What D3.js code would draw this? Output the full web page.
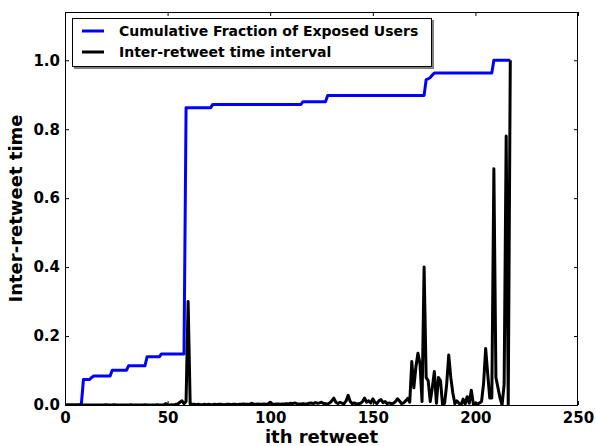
<!DOCTYPE html>
<html>
<head>
<meta charset="utf-8">
<script src="https://cdn.jsdelivr.net/npm/d3@7"></script>
<style>
  html, body { margin: 0; padding: 0; background: #fff; }
  svg { display: block; }
  text { font-family: "DejaVu Sans", sans-serif; font-weight: bold; fill: #000; }
</style>
</head>
<body>
<svg id="chart" width="596" height="446"></svg>
<script>
// ---- data ----
const seriesNames = ["Cumulative Fraction of Exposed Users", "Inter-retweet time interval"];
const xTicks = [0, 50, 100, 150, 200, 250];
const yTicks = [0.0, 0.2, 0.4, 0.6, 0.8, 1.0];
const xLabel = "ith retweet";
const yLabel = "Inter-retweet time";

// cumulative fraction of exposed users, one value per retweet index 0..217
const cumulative = [
  0,0,0,0,0,0,0,0,0.005,0.074,
  0.074,0.074,0.074,0.08,0.084,0.084,0.084,0.084,0.084,0.084,
  0.084,0.084,0.084,0.101,0.101,0.101,0.101,0.101,0.101,0.101,
  0.101,0.114,0.114,0.114,0.114,0.114,0.114,0.114,0.114,0.114,
  0.14,0.14,0.14,0.14,0.14,0.14,0.14,0.148,0.148,0.148,
  0.148,0.148,0.148,0.148,0.148,0.148,0.148,0.148,0.148,0.862,
  0.862,0.862,0.862,0.862,0.862,0.862,0.862,0.862,0.862,0.862,
  0.862,0.862,0.872,0.872,0.872,0.872,0.872,0.872,0.872,0.872,
  0.872,0.872,0.872,0.872,0.872,0.872,0.872,0.872,0.872,0.872,
  0.872,0.872,0.872,0.872,0.872,0.872,0.872,0.872,0.872,0.872,
  0.872,0.872,0.872,0.872,0.872,0.872,0.872,0.872,0.872,0.872,
  0.872,0.872,0.872,0.872,0.872,0.872,0.88,0.88,0.88,0.88,
  0.88,0.88,0.88,0.88,0.88,0.88,0.88,0.88,0.898,0.898,
  0.898,0.898,0.898,0.898,0.898,0.898,0.898,0.898,0.898,0.898,
  0.898,0.898,0.898,0.898,0.898,0.898,0.898,0.898,0.898,0.898,
  0.898,0.898,0.898,0.898,0.898,0.898,0.898,0.898,0.898,0.898,
  0.898,0.898,0.898,0.898,0.898,0.898,0.898,0.898,0.898,0.898,
  0.898,0.898,0.898,0.898,0.898,0.898,0.944,0.946,0.95,0.957,
  0.963,0.963,0.963,0.963,0.963,0.963,0.963,0.963,0.963,0.963,
  0.963,0.963,0.963,0.963,0.963,0.963,0.963,0.963,0.963,0.963,
  0.963,0.963,0.963,0.963,0.963,0.963,0.963,0.963,0.963,1.0,
  1.0,1.0,1.0,1.0,1.0,1.0,1.0,1.0
];

// inter-retweet time interval, one value per retweet index 0..217
const interval = [
  0,0,0,0,0,0,0,0,0,0,
  0,0,0,0,0,0,0,0,0,0,
  0.001,0,0,0,0.001,0,0,0,0,0,
  0,0,0.001,0,0,0,0,0,0,0.001,
  0,0,0,0,0,0.001,0,0,0,0.004,
  0.001,0,0.001,0,0.002,0.003,0.008,0.012,0.004,0.01,
  0.30,0.003,0.002,0.002,0.001,0.002,0.001,0.001,0.002,0.001,
  0.002,0.001,0.001,0.002,0.001,0.002,0.002,0.001,0.001,0.002,
  0.002,0.001,0.002,0.002,0.001,0.002,0.002,0.003,0.002,0.002,
  0.002,0.005,0.002,0.002,0.003,0.002,0.002,0.003,0.002,0.003,
  0.008,0.003,0.002,0.003,0.003,0.002,0.003,0.003,0.004,0.003,
  0.005,0.004,0.006,0.004,0.003,0.003,0.004,0.003,0.003,0.005,
  0.006,0.004,0.007,0.005,0.006,0.008,0.004,0.004,0.003,0.006,
  0.012,0.02,0.008,0.004,0.008,0.005,0.004,0.012,0.028,0.01,
  0.004,0.006,0.003,0.004,0.005,0.01,0.02,0.008,0.012,0.006,
  0.018,0.008,0.004,0.012,0.016,0.007,0.01,0.004,0.006,0.004,
  0.005,0.01,0.018,0.012,0.004,0.006,0.012,0.019,0.008,0.126,
  0.05,0.11,0.15,0.12,0.01,0.40,0.08,0.07,0.01,0.05,
  0.097,0.005,0.08,0.07,0.0,0.005,0.06,0.145,0.08,0.035,
  0.004,0.012,0.005,0.0,0.017,0.003,0.024,0.005,0.043,0.003,
  0.005,0.003,0.006,0.01,0.063,0.164,0.09,0.02,0.02,0.685,
  0.08,0.05,0.02,0.0,0.06,0.78,0.0,1.0
];

const colors = ["#0000ff", "#000000"];

// ---- layout ----
const svg = d3.select("#chart");
const L = 65, T = 12, R = 578, B = 405;
const x = d3.scaleLinear().domain([0, 250]).range([L, R]);
const y = d3.scaleLinear().domain([0, 1.14]).range([B, T]);

svg.append("defs").append("clipPath").attr("id", "clip")
  .append("rect").attr("x", L).attr("y", T).attr("width", R - L).attr("height", B - T);

const line = d3.line().x((d, i) => x(i)).y(d => y(d));

const plot = svg.append("g").attr("clip-path", "url(#clip)");
[cumulative, interval].forEach((s, k) => {
  plot.append("path").datum(s)
    .attr("d", line)
    .attr("fill", "none")
    .attr("stroke", colors[k])
    .attr("stroke-width", 3)
    .attr("stroke-linejoin", "round");
});

// axes (inward ticks on all four sides)
const tickLen = 4;
const axBottom = d3.axisBottom(x).tickValues(xTicks).tickSize(-tickLen).tickPadding(7).tickFormat(d3.format("d"));
const axTop = d3.axisTop(x).tickValues(xTicks).tickSize(-tickLen).tickFormat("");
const axLeft = d3.axisLeft(y).tickValues(yTicks).tickSize(-tickLen).tickPadding(5).tickFormat(d3.format(".1f"));
const axRight = d3.axisRight(y).tickValues(yTicks).tickSize(-tickLen).tickFormat("");

function styleAxis(g) {
  g.select(".domain").remove();
  g.selectAll(".tick line").attr("stroke", "#000").attr("stroke-width", 1);
  g.selectAll(".tick text").style("font-size", "15px").style("font-weight", "bold")
    .style("font-family", "DejaVu Sans").attr("fill", "#000");
}
svg.append("g").attr("transform", `translate(0,${B})`).call(axBottom).call(styleAxis);
svg.append("g").attr("transform", `translate(0,${T})`).call(axTop).call(styleAxis);
svg.append("g").attr("transform", `translate(${L},0)`).call(axLeft).call(styleAxis);
svg.append("g").attr("transform", `translate(${R},0)`).call(axRight).call(styleAxis);

// frame
svg.append("rect").attr("x", L + 0.5).attr("y", T + 0.5)
  .attr("width", R - L - 1).attr("height", B - T)
  .attr("fill", "none").attr("stroke", "#000").attr("stroke-width", 1);

// axis labels
svg.append("text").attr("x", (L + R) / 2).attr("y", 443)
  .attr("text-anchor", "middle").style("font-size", "18px").text(xLabel);
svg.append("text").attr("transform", `translate(22,${(T + B) / 2}) rotate(-90)`)
  .attr("text-anchor", "middle").style("font-size", "18px").text(yLabel);

// legend
const lg = svg.append("g");
lg.append("rect").attr("x", 74).attr("y", 20).attr("width", 360).attr("height", 49)
  .attr("fill", "#808080");
lg.append("rect").attr("x", 72.5).attr("y", 18.5).attr("width", 359).attr("height", 48)
  .attr("fill", "#fff").attr("stroke", "#000").attr("stroke-width", 1);
seriesNames.forEach((name, k) => {
  const yy = 31 + k * 21;
  lg.append("line").attr("x1", 82).attr("x2", 104).attr("y1", yy).attr("y2", yy)
    .attr("stroke", colors[k]).attr("stroke-width", 3);
  lg.append("text").attr("x", 119).attr("y", yy + 5).style("font-size", "14px").text(name);
});
</script>
</body>
</html>
